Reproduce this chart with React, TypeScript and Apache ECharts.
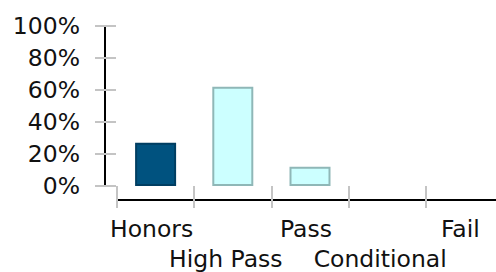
import React, { useEffect, useRef } from "react";
import * as echarts from "echarts";

const categories = ["Honors", "High Pass", "Pass", "Conditional", "Fail"];
const values = [27, 62, 12, 0, 0];
const yTicks = [0, 20, 40, 60, 80, 100];

const darkFill = "#00527f";
const darkBorder = "#003e62";
const lightFill = "#ccffff";
const lightBorder = "#8fb7b7";

export default function App() {
  const ref = useRef<HTMLDivElement>(null);
  useEffect(() => {
    if (!ref.current) return;
    const chart = echarts.init(ref.current, undefined, { renderer: "svg" });
    const font = "DejaVu Sans";
    const labelBase = {
      fontFamily: font,
      fontSize: 23.5,
      lineHeight: 24,
      color: "#111",
    };
    chart.setOption({
      animation: false,
      grid: { left: 117, right: -7, top: 26, bottom: 86, outerBoundsMode: "none", containLabel: false },
      xAxis: [
        {
          type: "category",
          data: categories,
          position: "bottom",
          offset: 3,
          axisLine: { show: false },
          axisTick: { show: true, length: 22, lineStyle: { color: "#c4c4c4", width: 2 }, interval: 0 },
          axisLabel: { ...labelBase, padding: [0, 8, 0, 0], margin: 28, interval: (i: number) => i % 2 === 0 },
          splitLine: { show: false },
        },
        {
          type: "category",
          data: categories,
          position: "bottom",
          offset: 3,
          axisLine: { show: false },
          axisTick: { show: false },
          axisLabel: { ...labelBase, padding: [0, 14, 0, 0], margin: 58, interval: (i: number) => i % 2 === 1 },
          splitLine: { show: false },
        },
        {
          type: "category",
          data: categories,
          position: "bottom",
          offset: 14,
          axisLine: { show: true, onZero: false, lineStyle: { color: "#000", width: 2 } },
          axisTick: { show: false },
          axisLabel: { show: false },
          splitLine: { show: false },
        },
      ],
      yAxis: [
        {
          type: "value",
          min: yTicks[0],
          max: yTicks[yTicks.length - 1],
          interval: 20,
          position: "left",
          offset: 1,
          axisLine: { show: false },
          axisTick: { show: true, length: 21, lineStyle: { color: "#c4c4c4", width: 2 } },
          axisLabel: {
            margin: 36,
            fontFamily: font,
            fontSize: 23.5,
            color: "#111",
            formatter: (v: number) => v + "%",
          },
          splitLine: { show: false },
        },
        {
          type: "value",
          min: yTicks[0],
          max: yTicks[yTicks.length - 1],
          interval: 20,
          position: "left",
          offset: 12,
          axisLine: { show: true, lineStyle: { color: "#000", width: 2 } },
          axisTick: { show: false },
          axisLabel: { show: false },
          splitLine: { show: false },
        },
      ],
      series: [
        {
          type: "bar",
          xAxisIndex: 0,
          yAxisIndex: 0,
          barWidth: 41,
          data: values.map((v, i) => ({
            value: v,
            itemStyle:
              i === 0
                ? { color: darkFill, borderColor: darkBorder, borderWidth: 2 }
                : { color: lightFill, borderColor: lightBorder, borderWidth: v > 0 ? 2 : 0 },
          })),
        },
      ],
    });
    return () => chart.dispose();
  }, []);
  return (
    <div
      ref={ref}
      style={{ position: "absolute", left: 0, top: 0, width: 496, height: 272 }}
    />
  );
}
